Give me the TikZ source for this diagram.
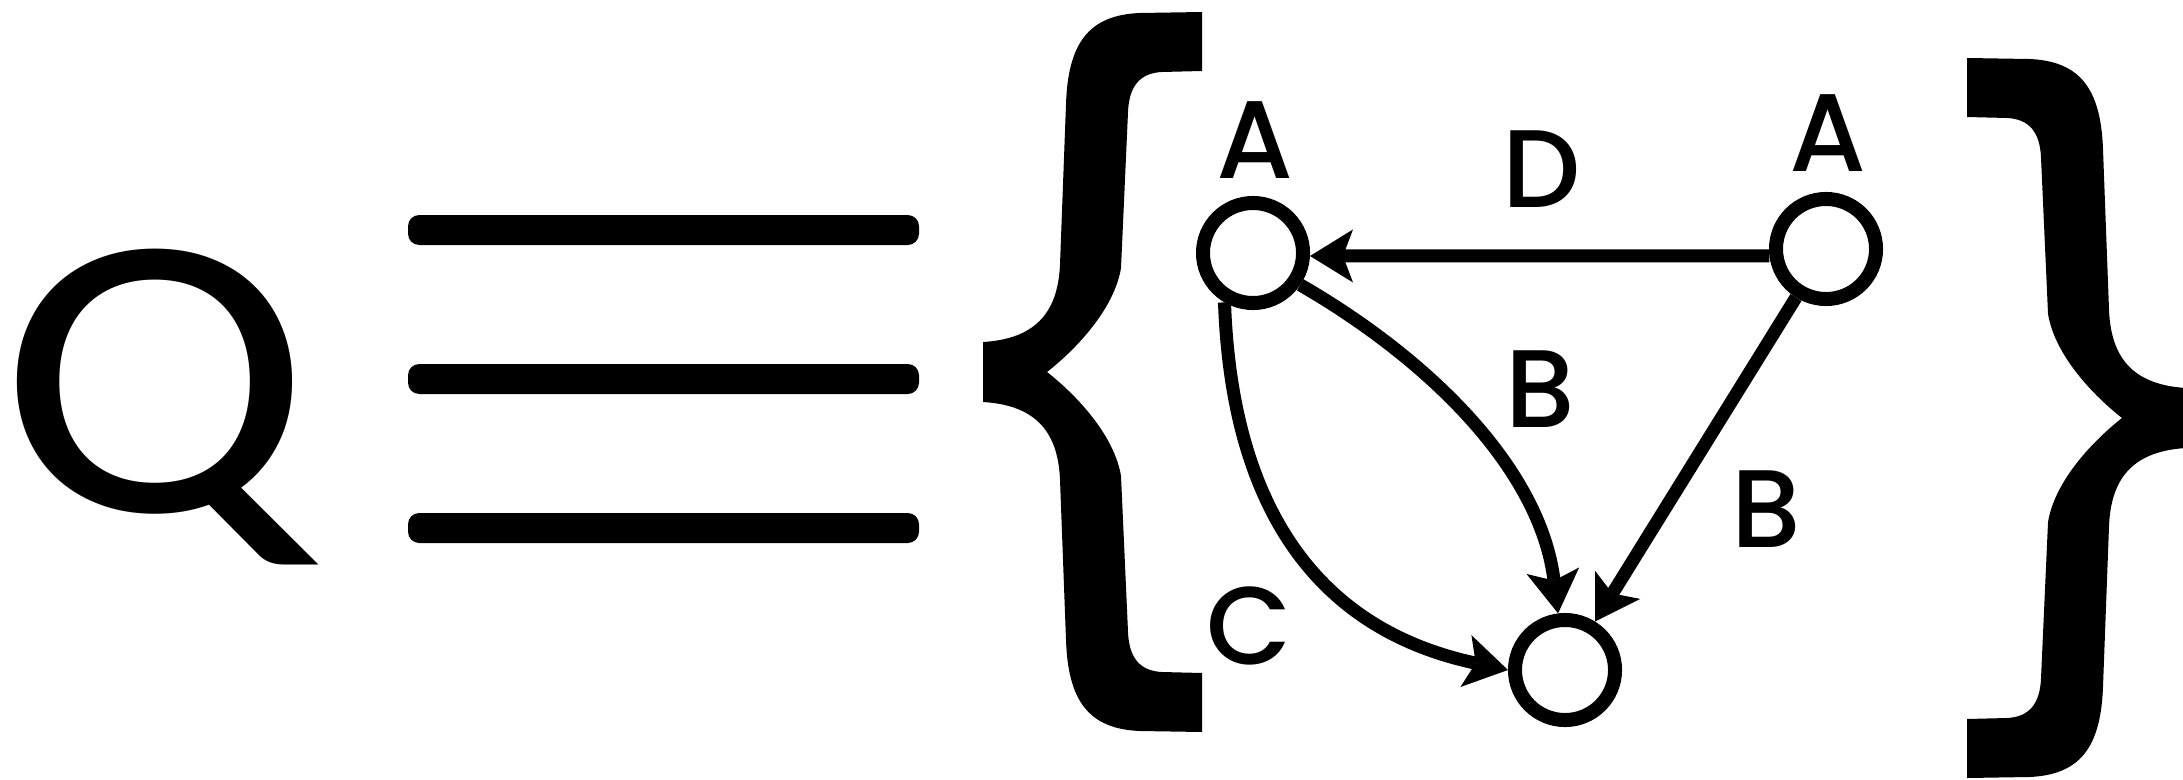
\documentclass[tikz,border=0pt]{standalone}
\usepackage{fontspec}
\usetikzlibrary{arrows.meta}
\newfontfamily\lblfont{Poppins}[UprightFont=* Medium]
\newfontfamily\qfont{Carlito}
\tikzset{
  state/.style={circle, draw, line width=0.14cm, minimum size=1cm, inner sep=0pt},
  arr/.style={line width=0.13cm, -{Stealth[length=0.43cm, width=0.53cm, inset=0.1cm, line width=0pt]}},
  lbl/.style={font=\lblfont\fontsize{31.4pt}{31.4pt}\selectfont, inner sep=0pt, anchor=base},
  bar/.style={fill=black, rounded corners=3.2pt},
  bracepic/.pic={
    \fill (1202,12) -- (1202,71) -- (1162,72) .. controls (1140,73) and (1129,86) .. (1128,112)
      -- (1121,268) .. controls (1114,310) and (1075,350) .. (1047,372)
      .. controls (1075,394) and (1114,434) .. (1121,476)
      -- (1128,632) .. controls (1129,658) and (1140,671) .. (1162,672)
      -- (1202,673) -- (1202,732) -- (1140,731) .. controls (1088,729) and (1068,700) .. (1066,640)
      -- (1060,480) .. controls (1058,428) and (1032,405) .. (983,402)
      -- (983,342) .. controls (1032,339) and (1058,316) .. (1060,264)
      -- (1066,104) .. controls (1068,44) and (1088,15) .. (1140,13) -- cycle;
  }
}
\begin{document}
\begin{tikzpicture}[x=0.01cm, y=-0.01cm]
\useasboundingbox (0,0) rectangle (2183,779);
% Q
\node[font=\qfont\fontsize{115pt}{115pt}\selectfont, inner sep=0pt, anchor=base, xscale=1.15] (Q) at (155,511) {Q};
% triple bar
\path[bar] (408,215) rectangle (919,245);
\path[bar] (408,364) rectangle (919,394);
\path[bar] (408,513) rectangle (919,543);
% braces
\pic at (0,0) {bracepic};
\pic[xscale=-1] at (3169,46) {bracepic};
% graph
\node[state] (n1) at (1253,253) {};
\node[state] (n2) at (1826,249) {};
\node[state] (n3) at (1565,670) {};
\draw[arr] (n2.187) -- (n1.-3);
\draw[arr] (n1.-34) to[out=-30, in=97, looseness=0.9] (n3.97);
\draw[arr] (n1.240) to[out=-88, in=168, looseness=1.1] (n3.west);
\draw[arr] (n2) -- (n3);
% labels
\node[lbl] (la1) at (1255,179) {A};
\node[lbl] (la2) at (1828,171) {A};
\node[lbl] (ld) at (1542,208) {D};
\node[lbl] (lb1) at (1540,427) {B};
\node[lbl] (lb2) at (1766,547) {B};
\node[lbl] (lc) at (1249,664) {C};
\end{tikzpicture}
\end{document}
